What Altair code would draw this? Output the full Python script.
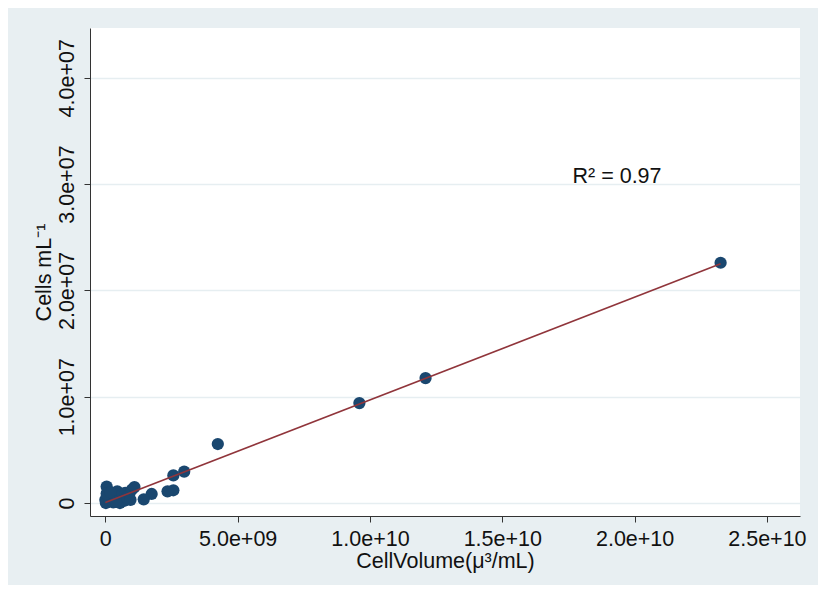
import altair as alt
import pandas as pd

# Data
cell_volume = [23.25e9, 12.1e9, 9.6e9, 4.25e9, 2.98e9, 2.57e9, 2.57e9, 2.35e9, 1.75e9, 1.45e9,
               0.05e9, 0.0, 0.02e9, 0.1e9, 0.15e9, 0.25e9, 0.3e9, 0.35e9, 0.45e9, 0.5e9,
               0.55e9, 0.6e9, 0.7e9, 0.75e9, 0.8e9, 0.9e9, 1.0e9, 1.1e9, 0.95e9, 0.05e9,
               0.2e9, 0.4e9]
cells_ml = [22.6e6, 11.75e6, 9.4e6, 5.55e6, 2.95e6, 2.6e6, 1.2e6, 1.1e6, 0.85e6, 0.35e6,
            1.55e6, 0.3e6, 0.0, 0.6e6, 0.2e6, 0.5e6, 0.05e6, 0.8e6, 1.1e6, 0.3e6,
            0.0, 0.7e6, 0.2e6, 0.95e6, 0.5e6, 0.8e6, 1.25e6, 1.5e6, 0.3e6, 0.9e6,
            1.0e6, 0.1e6]

x_ticks = [0, 5e9, 1e10, 1.5e10, 2e10, 2.5e10]
x_tick_labels = ["0", "5.0e+09", "1.0e+10", "1.5e+10", "2.0e+10", "2.5e+10"]
y_ticks = [0, 1e7, 2e7, 3e7, 4e7]
y_tick_labels = ["0", "1.0e+07", "2.0e+07", "3.0e+07", "4.0e+07"]
r2_text = ["R\u00b2 = 0.97"]

df = pd.DataFrame({"vol": cell_volume, "cells": cells_ml})


def label_expr(vals, labs):
    expr = "''"
    for v, l in reversed(list(zip(vals, labs))):
        expr = f"abs(datum.value - {v}) < 1 ? '{l}' : ({expr})"
    return expr


FONT = "Liberation Sans"
FS = 21.5
NAVY = "#1a476f"
MAROON = "#90353b"
GRID = "#e6eef1"

xscale = alt.Scale(domain=[-0.58e9, 26.25e9], nice=False, zero=False)
yscale = alt.Scale(domain=[-1.22e6, 44.68e6], nice=False, zero=False)

xaxis = alt.Axis(values=x_ticks, labelExpr=label_expr(x_ticks, x_tick_labels),
                 title="CellVolume(\u03bc\u00b3/mL)", grid=False, tickSize=6,
                 labelPadding=6, titlePadding=1, labelFontSize=FS, titleFontSize=FS,
                 labelFont=FONT, titleFont=FONT, labelColor="#111", titleColor="#111",
                 titleFontWeight="normal", domainColor="#333", tickColor="#333",
                 labelOverlap=False, labelFlush=False)
yaxis = alt.Axis(values=y_ticks, labelExpr=label_expr(y_ticks, y_tick_labels),
                 title="Cells mL\u207b\u00b9", grid=True, gridColor=GRID, gridWidth=1.5,
                 tickSize=6, labelAngle=270, labelAlign="center", labelBaseline="bottom",
                 labelPadding=6, titlePadding=1, labelFontSize=FS, titleFontSize=FS,
                 labelFont=FONT, titleFont=FONT, labelColor="#111", titleColor="#111",
                 titleFontWeight="normal", domainColor="#333", tickColor="#333",
                 labelOverlap=False, labelFlush=False)

base = alt.Chart(df)

points = base.mark_circle(size=150, opacity=1, color=NAVY).encode(
    x=alt.X("vol:Q", scale=xscale, axis=xaxis),
    y=alt.Y("cells:Q", scale=yscale, axis=yaxis),
)

fit = base.transform_regression("vol", "cells").mark_line(
    color=MAROON, strokeWidth=1.6).encode(
    x=alt.X("vol:Q", scale=xscale),
    y=alt.Y("cells:Q", scale=yscale),
)

label = alt.Chart(pd.DataFrame({"t": r2_text})).mark_text(
    font=FONT, fontSize=FS, color="#111", align="center", baseline="middle").encode(
    text="t:N", x=alt.value(527), y=alt.value(149))

chart = (points + fit + label).properties(
    width=710, height=488,
    autosize=alt.AutoSizeParams(type="none"),
    padding={"left": 82, "top": 20, "right": 18, "bottom": 69},
    background="#e8eff2",
).configure_view(fill="white", strokeWidth=0)

chart.save("out.html", embed_options={"renderer": "svg", "actions": False})
